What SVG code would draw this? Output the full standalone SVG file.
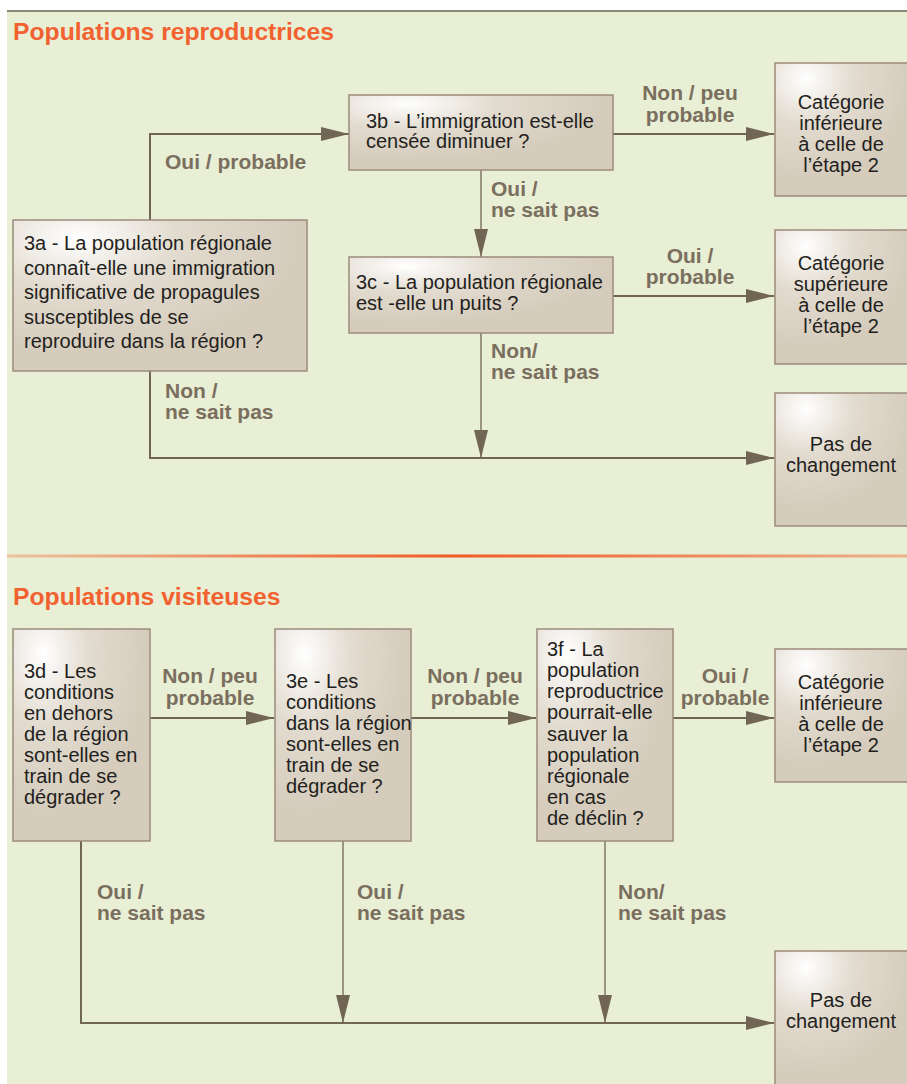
<svg xmlns="http://www.w3.org/2000/svg" width="907" height="1084" viewBox="0 0 907 1084">
<defs>
<radialGradient id="bg" cx="0.22" cy="0.12" r="0.75" fx="0.22" fy="0.12">
<stop offset="0" stop-color="#ffffff"/>
<stop offset="0.45" stop-color="#e2dbcf"/>
<stop offset="1" stop-color="#d5ccbc"/>
</radialGradient>
<linearGradient id="sep" x1="0" y1="0" x2="1" y2="0">
<stop offset="0" stop-color="#f15a24" stop-opacity="0.3"/>
<stop offset="0.5" stop-color="#f15a24"/>
<stop offset="1" stop-color="#f15a24" stop-opacity="0.4"/>
</linearGradient>
<marker id="ah" viewBox="0 0 28 14" refX="28" refY="7" markerWidth="28" markerHeight="14" markerUnits="userSpaceOnUse" orient="auto">
<path d="M0,0 L28,7 L0,14 z" fill="#716554"/>
</marker>
<style>
.box{fill:url(#bg);stroke:#9c8b7b;stroke-width:1.5}
.t{font-family:"Liberation Sans",Arial,sans-serif;font-size:20px;fill:#231f20}
.tc{font-family:"Liberation Sans",Arial,sans-serif;font-size:20px;fill:#231f20;text-anchor:middle}
.lb{font-family:"Liberation Sans",Arial,sans-serif;font-size:21px;font-weight:bold;fill:#7a6e5e}
.lbc{font-family:"Liberation Sans",Arial,sans-serif;font-size:21px;font-weight:bold;fill:#7a6e5e;text-anchor:middle}
.ttl{font-family:"Liberation Sans",Arial,sans-serif;font-size:24.7px;font-weight:bold;fill:#f26130}
.ln{fill:none;stroke:#716554;stroke-width:2}
.lt{fill:none;stroke:#716554;stroke-width:1.3}
</style>
</defs>
<rect x="7" y="11" width="900" height="1073" fill="#e8efd4"/>
<line x1="7" y1="11" x2="907" y2="11" stroke="#8a8a7a" stroke-width="2"/>
<rect x="7" y="554.5" width="900" height="3" fill="url(#sep)"/>
<text class="ttl" x="13" y="40">Populations reproductrices</text>
<text class="ttl" x="13" y="605">Populations visiteuses</text>

<g id="connectors">
<polyline class="ln" points="150,220 150,134 349,134" marker-end="url(#ah)"/>
<line class="ln" x1="613" y1="134" x2="774" y2="134" marker-end="url(#ah)"/>
<line class="lt" x1="481" y1="170" x2="481" y2="257" marker-end="url(#ah)"/>
<line class="ln" x1="613" y1="296" x2="774" y2="296" marker-end="url(#ah)"/>
<line class="lt" x1="481" y1="333" x2="481" y2="458" marker-end="url(#ah)"/>
<polyline class="ln" points="150,371 150,458 774,458" marker-end="url(#ah)"/>

<line class="ln" x1="150" y1="718" x2="274" y2="718" marker-end="url(#ah)"/>
<line class="ln" x1="411" y1="718" x2="536" y2="718" marker-end="url(#ah)"/>
<line class="ln" x1="673" y1="718" x2="774" y2="718" marker-end="url(#ah)"/>
<polyline class="ln" points="81,841 81,1023 774,1023" marker-end="url(#ah)"/>
<line class="lt" x1="343" y1="841" x2="343" y2="1023" marker-end="url(#ah)"/>
<line class="lt" x1="605" y1="841" x2="605" y2="1023" marker-end="url(#ah)"/>

<text class="lb" x="165" y="169">Oui / probable</text>
<text class="lbc" x="690" y="100">Non / peu</text>
<text class="lbc" x="690" y="121.5">probable</text>
<text class="lb" x="491" y="196">Oui /</text>
<text class="lb" x="491" y="217">ne sait pas</text>
<text class="lbc" x="690" y="263">Oui /</text>
<text class="lbc" x="690" y="284">probable</text>
<text class="lb" x="491" y="358">Non/</text>
<text class="lb" x="491" y="379">ne sait pas</text>
<text class="lb" x="165" y="398">Non /</text>
<text class="lb" x="165" y="419">ne sait pas</text>

<text class="lbc" x="210" y="683">Non / peu</text>
<text class="lbc" x="210" y="704.5">probable</text>
<text class="lbc" x="475" y="683">Non / peu</text>
<text class="lbc" x="475" y="704.5">probable</text>
<text class="lbc" x="725" y="683">Oui /</text>
<text class="lbc" x="725" y="704.5">probable</text>
<text class="lb" x="97" y="899">Oui /</text>
<text class="lb" x="97" y="920">ne sait pas</text>
<text class="lb" x="357" y="899">Oui /</text>
<text class="lb" x="357" y="920">ne sait pas</text>
<text class="lb" x="618" y="899">Non/</text>
<text class="lb" x="618" y="920">ne sait pas</text>
</g>

<g id="n3b">
<rect class="box" x="349" y="95" width="264" height="75"/>
<text class="t" x="366" y="128">3b - L’immigration est-elle</text>
<text class="t" x="366" y="148">censée diminuer ?</text>
</g>
<g id="n3a">
<rect class="box" x="13" y="220" width="294" height="151"/>
<text class="t" x="24" y="250">3a - La population régionale</text>
<text class="t" x="24" y="274.5">connaît-elle une immigration</text>
<text class="t" x="24" y="299">significative de propagules</text>
<text class="t" x="24" y="323.5">susceptibles de se</text>
<text class="t" x="24" y="348">reproduire dans la région ?</text>
</g>
<g id="n3c">
<rect class="box" x="349" y="257" width="264" height="76"/>
<text class="t" x="356" y="289">3c - La population régionale</text>
<text class="t" x="356" y="310">est -elle un puits ?</text>
</g>
<g id="cat-inf-1">
<rect class="box" x="775" y="63" width="140" height="133"/>
<text class="tc" x="841" y="109">Catégorie</text>
<text class="tc" x="841" y="130">inférieure</text>
<text class="tc" x="841" y="151">à celle de</text>
<text class="tc" x="841" y="172">l’étape 2</text>
</g>
<g id="cat-sup">
<rect class="box" x="775" y="230" width="140" height="134"/>
<text class="tc" x="841" y="270">Catégorie</text>
<text class="tc" x="841" y="291">supérieure</text>
<text class="tc" x="841" y="312">à celle de</text>
<text class="tc" x="841" y="333">l’étape 2</text>
</g>
<g id="pas-1">
<rect class="box" x="775" y="393" width="140" height="133"/>
<text class="tc" x="841" y="451">Pas de</text>
<text class="tc" x="841" y="472">changement</text>
</g>

<g id="n3d">
<rect class="box" x="13" y="629" width="137" height="212"/>
<text class="t" x="24" y="678">3d - Les</text>
<text class="t" x="24" y="699">conditions</text>
<text class="t" x="24" y="720">en dehors</text>
<text class="t" x="24" y="741">de la région</text>
<text class="t" x="24" y="762">sont-elles en</text>
<text class="t" x="24" y="783">train de se</text>
<text class="t" x="24" y="804">dégrader ?</text>
</g>
<g id="n3e">
<rect class="box" x="275" y="629" width="136" height="212"/>
<text class="t" x="286" y="688">3e - Les</text>
<text class="t" x="286" y="709">conditions</text>
<text class="t" x="286" y="730">dans la région</text>
<text class="t" x="286" y="751">sont-elles en</text>
<text class="t" x="286" y="772">train de se</text>
<text class="t" x="286" y="793">dégrader ?</text>
</g>
<g id="n3f">
<rect class="box" x="537" y="629" width="136" height="212"/>
<text class="t" x="547" y="656">3f - La</text>
<text class="t" x="547" y="677">population</text>
<text class="t" x="547" y="698">reproductrice</text>
<text class="t" x="547" y="719">pourrait-elle</text>
<text class="t" x="547" y="741">sauver la</text>
<text class="t" x="547" y="762">population</text>
<text class="t" x="547" y="783">régionale</text>
<text class="t" x="547" y="804">en cas</text>
<text class="t" x="547" y="825">de déclin ?</text>
</g>
<g id="cat-inf-2">
<rect class="box" x="775" y="649" width="140" height="133"/>
<text class="tc" x="841" y="689">Catégorie</text>
<text class="tc" x="841" y="710">inférieure</text>
<text class="tc" x="841" y="731">à celle de</text>
<text class="tc" x="841" y="752">l’étape 2</text>
</g>
<g id="pas-2">
<rect class="box" x="775" y="951" width="140" height="140"/>
<text class="tc" x="841" y="1007">Pas de</text>
<text class="tc" x="841" y="1028">changement</text>
</g>
</svg>
